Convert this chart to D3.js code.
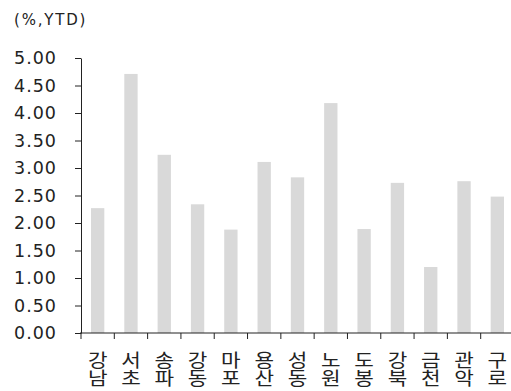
<!DOCTYPE html>
<html>
<head>
<meta charset="utf-8">
<script src="https://cdn.jsdelivr.net/npm/d3@7"></script>
<style>
  html, body { margin: 0; padding: 0; background: #fff; }
  svg { display: block; }
  text { fill: #222; }
  .num { font-family: "DejaVu Sans", sans-serif; letter-spacing: 1px; }
  .kr { font-family: "Noto Sans CJK KR", sans-serif; }
</style>
</head>
<body>
<svg id="chart" width="511" height="391"></svg>
<script>
// Seoul districts, year-to-date change (%)
const districts = ["강남", "서초", "송파", "강동", "마포", "용산", "성동", "노원", "도봉", "강북", "금천", "관악", "구로"];
const ytdChange = [2.27, 4.71, 3.24, 2.34, 1.88, 3.11, 2.83, 4.18, 1.89, 2.73, 1.20, 2.76, 2.48];
const yTicks = [0, 0.5, 1, 1.5, 2, 2.5, 3, 3.5, 4, 4.5, 5];
const unitLabel = "(%,YTD)";

const svg = d3.select("#chart");
const plotLeft = 81, plotRight = 514, plotTop = 58, plotBottom = 333;

const x = d3.scaleBand().domain(districts).range([plotLeft, plotRight]).paddingInner(0.6).paddingOuter(0.3);
const xCells = d3.scaleBand().domain(districts).range([plotLeft, plotRight]);
const y = d3.scaleLinear().domain([0, 5]).range([plotBottom, plotTop]);

// bars
svg.append("g").selectAll("rect")
  .data(districts)
  .join("rect")
  .attr("x", d => x(d))
  .attr("width", x.bandwidth())
  .attr("y", (d, i) => y(ytdChange[i]))
  .attr("height", (d, i) => y(0) - y(ytdChange[i]))
  .attr("fill", "#d9d9d9");

// y axis
const yAxis = svg.append("g")
  .attr("transform", `translate(${plotLeft},0)`)
  .call(d3.axisLeft(y).tickValues(yTicks).tickFormat(d3.format(".2f")).tickSize(6).tickPadding(18).tickSizeOuter(0));
yAxis.attr("font-family", null).attr("font-size", null);
yAxis.select(".domain").attr("stroke", "#222");
yAxis.selectAll(".tick line").attr("stroke", "#222");
yAxis.selectAll("text").attr("class", "num").attr("font-size", 17.5).attr("fill", "#222");

// x axis: ticks at category boundaries
svg.append("line")
  .attr("x1", plotLeft - 1).attr("x2", plotRight)
  .attr("y1", plotBottom).attr("y2", plotBottom)
  .attr("stroke", "#222");
svg.append("g").selectAll("line")
  .data(districts)
  .join("line")
  .attr("x1", d => xCells(d)).attr("x2", d => xCells(d))
  .attr("y1", plotBottom).attr("y2", plotBottom + 6)
  .attr("stroke", "#222");

// category labels, one syllable per line, slightly widened
const labels = svg.append("g").selectAll("text")
  .data(districts)
  .join("text")
  .attr("class", "kr")
  .attr("text-anchor", "middle")
  .attr("font-size", 18.5)
  .attr("transform", d => `translate(${xCells(d) + xCells.bandwidth() / 2},0) scale(1.15,1)`);
labels.each(function(d) {
  const t = d3.select(this);
  [...d].forEach((ch, k) => {
    t.append("tspan").attr("x", 0).attr("y", 367 + k * 18.5).text(ch);
  });
});

// unit label
svg.append("text")
  .attr("class", "num")
  .attr("x", 14).attr("y", 25)
  .attr("font-size", 15)
  .style("letter-spacing", "1.8px")
  .text(unitLabel);
</script>
</body>
</html>
